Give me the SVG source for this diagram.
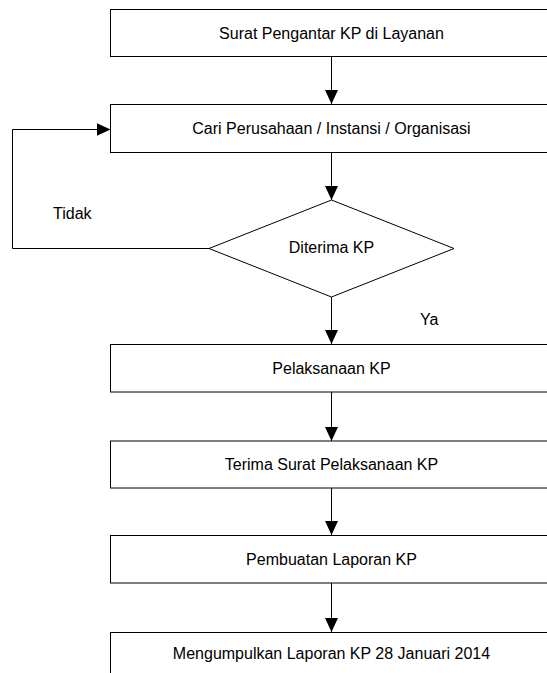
<svg xmlns="http://www.w3.org/2000/svg" width="547" height="673" viewBox="0 0 547 673">
<defs>
<marker id="arr" markerUnits="userSpaceOnUse" markerWidth="15" markerHeight="14" refX="14" refY="6.5" orient="auto">
<path d="M0,0 L14,6.5 L0,13 z" fill="#000"/>
</marker>
<style>
.box{fill:#fff;stroke:#000;stroke-width:1}
.t{font-family:"Liberation Sans",Arial,sans-serif;font-size:16px;fill:#000;text-anchor:middle}
.lbl{font-family:"Liberation Sans",Arial,sans-serif;font-size:16px;fill:#000}
.c{fill:none;stroke:#000;stroke-width:1;marker-end:url(#arr)}
</style>
</defs>
<rect width="547" height="673" fill="#fff"/>
<g id="connectors">
<line class="c" x1="331.5" y1="56.5" x2="331.5" y2="104"/>
<line class="c" x1="331.5" y1="153" x2="331.5" y2="200"/>
<line class="c" x1="331.5" y1="297" x2="331.5" y2="344"/>
<line class="c" x1="331.5" y1="392" x2="331.5" y2="441"/>
<line class="c" x1="331.5" y1="488" x2="331.5" y2="535"/>
<line class="c" x1="331.5" y1="583" x2="331.5" y2="632"/>
<polyline class="c" points="209,248.5 12.5,248.5 12.5,129.5 110.5,129.5"/>
<text class="lbl" x="53" y="218.5">Tidak</text>
<text class="lbl" x="420" y="324.5">Ya</text>
</g>
<g id="n1">
<rect class="box" x="110.5" y="9.5" width="442" height="47"/>
<text class="t" x="331.5" y="38.5">Surat Pengantar KP di Layanan</text>
</g>
<g id="n2">
<rect class="box" x="110.5" y="104.5" width="442" height="48"/>
<text class="t" x="331.5" y="134">Cari Perusahaan / Instansi / Organisasi</text>
</g>
<g id="n3">
<polygon class="box" points="331.5,200 454,248.5 331.5,297 209,248.5"/>
<text class="t" x="331.5" y="253">Diterima KP</text>
</g>
<g id="n4">
<rect class="box" x="110.5" y="344.5" width="442" height="47.5"/>
<text class="t" x="331.5" y="373.5">Pelaksanaan KP</text>
</g>
<g id="n5">
<rect class="box" x="110.5" y="441" width="442" height="47"/>
<text class="t" x="331.5" y="470">Terima Surat Pelaksanaan KP</text>
</g>
<g id="n6">
<rect class="box" x="110.5" y="535.5" width="442" height="47.5"/>
<text class="t" x="331.5" y="564.5">Pembuatan Laporan KP</text>
</g>
<g id="n7">
<rect class="box" x="110.5" y="632.5" width="442" height="48"/>
<text class="t" x="331.5" y="658.5">Mengumpulkan Laporan KP 28 Januari 2014</text>
</g>
</svg>
